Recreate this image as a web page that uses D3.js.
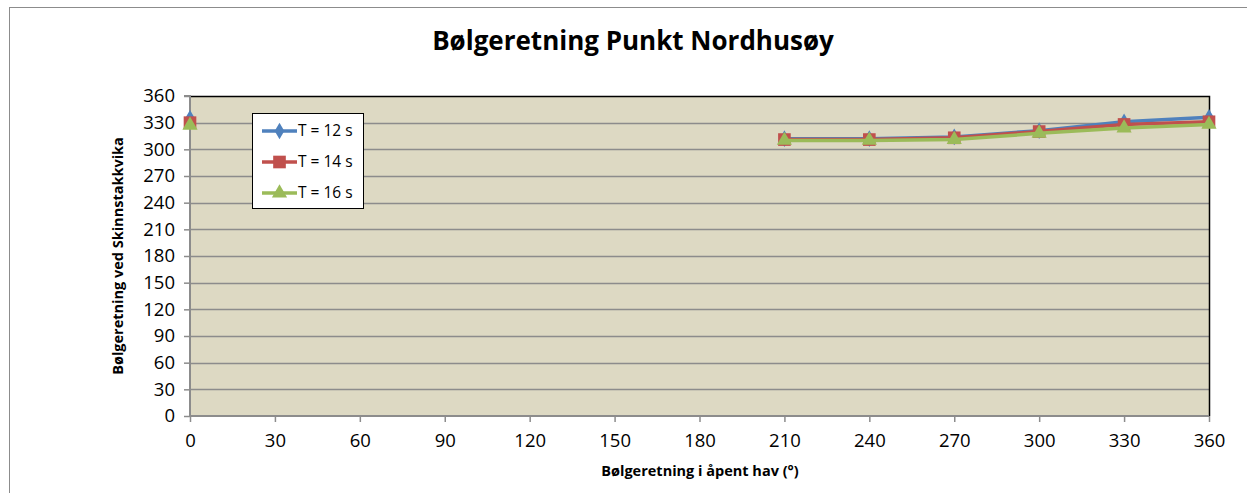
<!DOCTYPE html>
<html>
<head>
<meta charset="utf-8">
<script src="https://cdn.jsdelivr.net/npm/d3@7"></script>
<style>
	body { margin: 0; background: #fff; overflow: hidden; }
	svg { display: block; font-family: 'Open Sans', sans-serif; }
</style>
</head>
<body>
<div id="chart"></div>
<script>
var directions = [0, 30, 60, 90, 120, 150, 180, 210, 240, 270, 300, 330, 360];
var t12 = [335, null, null, null, null, null, null, 312, 312, 314, 321, 331, 336];
var t14 = [330, null, null, null, null, null, null, 311, 311, 313, 320, 328, 331];
var t16 = [327, null, null, null, null, null, null, 310, 310, 311, 318, 324, 328];
var seriesNames = ['T = 12 s', 'T = 14 s', 'T = 16 s'];
var yTicks = [0, 30, 60, 90, 120, 150, 180, 210, 240, 270, 300, 330, 360];

(function() {
	var width = 1247,
		height = 493;
	var plot = { left: 190, top: 96, right: 1209, bottom: 416 };
	var colors = ['#4f81bd', '#c0504d', '#9bbb59'];
	var shapes = [d3.symbolDiamond, d3.symbolSquare, d3.symbolTriangle];
	var sizes = [80, 160, 100];

	var svg = d3.select('#chart').append('svg')
		.attr('width', width)
		.attr('height', height);

	// outer chart frame
	svg.append('rect')
		.attr('x', 9.5).attr('y', 7.5)
		.attr('width', 1250).attr('height', 520)
		.attr('fill', '#fff')
		.attr('stroke', '#8c8c8c');

	var x = d3.scaleLinear().domain([0, 360]).range([plot.left, plot.right]);
	var y = d3.scaleLinear().domain([0, 360]).range([plot.bottom, plot.top]);

	svg.append('rect')
		.attr('x', plot.left).attr('y', plot.top)
		.attr('width', plot.right - plot.left).attr('height', plot.bottom - plot.top)
		.attr('fill', '#ddd9c3');

	// gridlines
	svg.append('g').selectAll('line')
		.data(yTicks.filter(function(d) { return d > 0 && d < 360; }))
		.enter().append('line')
		.attr('x1', plot.left).attr('x2', plot.right)
		.attr('y1', function(d) { return Math.round(y(d)) + 0.5; })
		.attr('y2', function(d) { return Math.round(y(d)) + 0.5; })
		.attr('stroke', '#8c8c8c')
		.attr('stroke-width', 1.5);

	// plot border top/right
	svg.append('path')
		.attr('d', 'M' + plot.left + ',' + (plot.top + 0.5) + 'H' + (plot.right + 0.5) + 'V' + plot.bottom)
		.attr('fill', 'none')
		.attr('stroke', '#000')
		.attr('stroke-width', 1.5);

	// axes
	var yAxis = svg.append('g')
		.attr('transform', 'translate(' + plot.left + ',0)')
		.call(d3.axisLeft(y).tickValues(yTicks).tickSize(6).tickPadding(9));
	var xAxis = svg.append('g')
		.attr('transform', 'translate(0,' + plot.bottom + ')')
		.call(d3.axisBottom(x).tickValues(directions).tickSize(6).tickPadding(12));

	[yAxis, xAxis].forEach(function(a) {
		a.select('.domain').attr('stroke', '#8c8c8c').attr('stroke-width', 2);
		a.selectAll('.tick line').attr('stroke', '#8c8c8c').attr('stroke-width', 1.5);
		a.selectAll('.tick text')
			.attr('fill', '#000')
			.style('font-family', "'Open Sans', sans-serif")
			.style('font-size', '18.5px');
	});
	yAxis.select('.domain').attr('d', 'M-6,' + plot.top + 'H0V' + plot.bottom);
	xAxis.select('.domain').attr('d', 'M' + plot.left + ',0H' + plot.right);

	// series
	var allSeries = [t12, t14, t16];
	var line = d3.line()
		.defined(function(d) { return d != null; })
		.x(function(d, i) { return x(directions[i]); })
		.y(function(d) { return y(d); });

	allSeries.forEach(function(vals, s) {
		var g = svg.append('g');
		g.append('path')
			.datum(vals)
			.attr('d', line)
			.attr('fill', 'none')
			.attr('stroke', colors[s])
			.attr('stroke-width', 3.5);
		g.selectAll('path.mk')
			.data(vals.map(function(v, i) { return { v: v, i: i }; }).filter(function(d) { return d.v != null; }))
			.enter().append('path')
			.attr('class', 'mk')
			.attr('d', d3.symbol().type(shapes[s]).size(sizes[s]))
			.attr('transform', function(d) {
				return 'translate(' + x(directions[d.i]) + ',' + y(d.v) + ')';
			})
			.attr('fill', colors[s]);
	});

	// legend
	var legend = svg.append('g');
	legend.append('rect')
		.attr('x', 252.5).attr('y', 113.5)
		.attr('width', 111).attr('height', 95)
		.attr('fill', '#fff')
		.attr('stroke', '#000');
	seriesNames.forEach(function(name, s) {
		var ly = 131 + s * 31;
		legend.append('line')
			.attr('x1', 262).attr('x2', 297)
			.attr('y1', ly).attr('y2', ly)
			.attr('stroke', colors[s])
			.attr('stroke-width', 3.5);
		legend.append('path')
			.attr('d', d3.symbol().type(shapes[s]).size(sizes[s]))
			.attr('transform', 'translate(279.5,' + ly + ')')
			.attr('fill', colors[s]);
		legend.append('text')
			.attr('x', 298).attr('y', ly)
			.attr('dy', '0.35em')
			.style('font-size', '15.5px')
			.text(name);
	});

	// titles
	svg.append('text')
		.attr('x', 633).attr('y', 50)
		.attr('text-anchor', 'middle')
		.style('font-size', '26px')
		.style('font-weight', 'bold')
		.text('Bølgeretning Punkt Nordhusøy');
	svg.append('text')
		.attr('x', 700).attr('y', 476)
		.attr('text-anchor', 'middle')
		.style('font-size', '14.5px')
		.style('font-weight', 'bold')
		.text('Bølgeretning i åpent hav (°)');
	svg.append('text')
		.attr('transform', 'translate(123,256) rotate(-90)')
		.attr('text-anchor', 'middle')
		.style('font-size', '14.5px')
		.style('font-weight', 'bold')
		.text('Bølgeretning ved Skinnstakkvika');
})();
</script>
</body>
</html>
